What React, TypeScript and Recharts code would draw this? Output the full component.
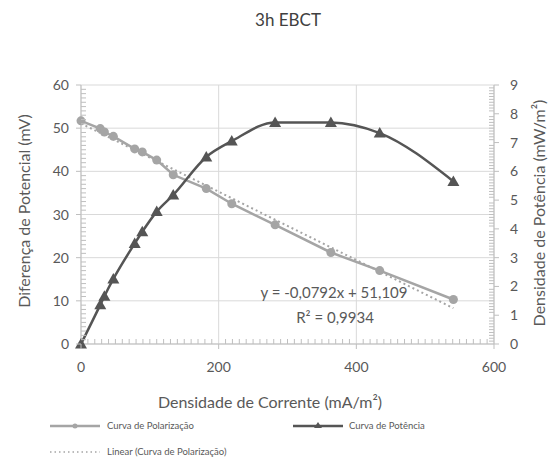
import React from 'react';
import { ComposedChart, Line, XAxis, YAxis, CartesianGrid } from 'recharts';

// ---- data ----
const currentDensity = [0, 28, 34, 47, 78, 89, 110, 134, 182, 219, 282, 363, 434, 541];
const potentialDiff = [51.7, 49.9, 49.1, 48.1, 45.2, 44.5, 42.6, 39.2, 36.0, 32.5, 27.6, 21.2, 17.0, 10.3];
const powerDensity = [0, 1.36, 1.66, 2.26, 3.49, 3.9, 4.6, 5.18, 6.5, 7.05, 7.7, 7.7, 7.33, 5.65];
const trendX = [0, 541];
const trendY = [51.1, 8.3];

const xMajorTicks = [0, 200, 400, 600];
const leftMajorTicks = [0, 10, 20, 30, 40, 50, 60];
const rightMajorTicks = [0, 1, 2, 3, 4, 5, 6, 7, 8, 9];

const title = '3h EBCT';
const xTitle = 'Densidade de Corrente (mA/m²)';
const leftTitle = 'Diferença de Potencial (mV)';
const rightTitle = 'Densidade de Potência (mW/m²)';
const seriesNames = ['Curva de Polarização', 'Curva de Potência', 'Linear (Curva de Polarização)'];
const trendEq = 'y = -0,0792x + 51,109';
const trendR2 = 'R² = 0,9934';

// minor tick positions (axis decoration)
const xTicks = Array.from({ length: 61 }, (_, i) => i * 10);
const leftTicks = Array.from({ length: 61 }, (_, i) => i);
const rightTicks = Array.from({ length: 91 }, (_, i) => i / 10);

const table = currentDensity.map((x, i) => ({ x, v: potentialDiff[i], p: powerDensity[i] }));
const trendData = trendX.map((x, i) => ({ x, t: trendY[i] }));

const AXIS = '#BFBFBF';
const GRID = '#D9D9D9';
const TEXT = '#595959';
const LIGHT = '#A5A5A5';
const DARK = '#555555';
const FONT = 'Lato, "Open Sans", sans-serif';

const isMajor = (v: number, step: number) => Math.abs(v / step - Math.round(v / step)) < 1e-6;

const LeftTick = (props: any) => {
  const { x, y, payload } = props;
  const v = payload.value;
  const major = isMajor(v, 10);
  return (
    <g>
      {major ? (
        <line x1={x - 5} x2={x} y1={y} y2={y} stroke={AXIS} />
      ) : (
        <line x1={x} x2={x + 5} y1={y} y2={y} stroke={AXIS} />
      )}
      {major && leftMajorTicks.includes(v) && (
        <text x={x - 12} y={y} dy="0.36em" textAnchor="end" fill={TEXT} fontSize={14} fontFamily={FONT}>
          {v}
        </text>
      )}
    </g>
  );
};

const RightTick = (props: any) => {
  const { x, y, payload } = props;
  const v = payload.value;
  const major = isMajor(v, 1);
  return (
    <g>
      {major ? (
        <line x1={x} x2={x + 5} y1={y} y2={y} stroke={AXIS} />
      ) : (
        <line x1={x - 5} x2={x} y1={y} y2={y} stroke={AXIS} />
      )}
      {major && rightMajorTicks.includes(Math.round(v)) && (
        <text x={x + 16} y={y} dy="0.36em" textAnchor="start" fill={TEXT} fontSize={14} fontFamily={FONT}>
          {Math.round(v)}
        </text>
      )}
    </g>
  );
};

const BottomTick = (props: any) => {
  const { x, y, payload } = props;
  const v = payload.value;
  const major = isMajor(v, 200);
  return (
    <g>
      {major ? (
        <line x1={x} x2={x} y1={y} y2={y + 5} stroke={AXIS} />
      ) : (
        <line x1={x} x2={x} y1={y - 5} y2={y} stroke={AXIS} />
      )}
      {major && xMajorTicks.includes(v) && (
        <text x={x} y={y + 23} dy="0.36em" textAnchor="middle" fill={TEXT} fontSize={14} fontFamily={FONT}>
          {v}
        </text>
      )}
    </g>
  );
};

const CircleDot = (props: any) => {
  const { cx, cy, index } = props;
  if (cx == null || cy == null) return <g key={`c${index}`} />;
  return <circle key={`c${index}`} cx={cx} cy={cy} r={4.5} fill={LIGHT} stroke="none" />;
};

const TriDot = (props: any) => {
  const { cx, cy, index } = props;
  if (cx == null || cy == null) return <g key={`t${index}`} />;
  const pts = `${cx},${cy - 6} ${cx - 6},${cy + 4.5} ${cx + 6},${cy + 4.5}`;
  return <polygon key={`t${index}`} points={pts} fill={DARK} stroke="none" />;
};

const textBase: React.CSSProperties = {
  position: 'absolute',
  fontFamily: FONT,
  color: TEXT,
  whiteSpace: 'nowrap',
  lineHeight: 1,
};

export default function App() {
  return (
    <div style={{ position: 'absolute', left: 0, top: 0, width: 548, height: 462, background: '#fff' }}>
      <ComposedChart
        width={548}
        height={462}
        data={table}
        margin={{ top: 85, right: 0, bottom: 88, left: 0 }}
      >
        <CartesianGrid
          yAxisId="left"
          stroke={GRID}
          horizontalValues={leftMajorTicks}
          verticalValues={xMajorTicks}
        />
        <XAxis
          dataKey="x"
          type="number"
          domain={[0, 600]}
          ticks={xTicks}
          interval={0}
          height={30}
          tickSize={0}
          tickMargin={0}
          tickLine={false}
          axisLine={{ stroke: AXIS }}
          tick={<BottomTick />}
        />
        <YAxis
          yAxisId="left"
          orientation="left"
          type="number"
          domain={[0, 60]}
          ticks={leftTicks}
          interval={0}
          width={81}
          tickSize={0}
          tickMargin={0}
          tickLine={false}
          axisLine={{ stroke: AXIS }}
          tick={<LeftTick />}
        />
        <YAxis
          yAxisId="right"
          orientation="right"
          type="number"
          domain={[0, 9]}
          ticks={rightTicks}
          interval={0}
          width={54}
          tickSize={0}
          tickMargin={0}
          tickLine={false}
          axisLine={{ stroke: AXIS }}
          tick={<RightTick />}
        />
        <Line
          yAxisId="left"
          dataKey="v"
          name={seriesNames[0]}
          type="linear"
          stroke={LIGHT}
          strokeWidth={2.5}
          dot={<CircleDot />}
          activeDot={false}
          isAnimationActive={false}
        />
        <Line
          yAxisId="left"
          data={trendData}
          dataKey="t"
          name={seriesNames[2]}
          type="linear"
          stroke={LIGHT}
          strokeWidth={2}
          strokeDasharray="2 3"
          dot={false}
          activeDot={false}
          isAnimationActive={false}
        />
        <Line
          yAxisId="right"
          dataKey="p"
          name={seriesNames[1]}
          type="monotone"
          stroke={DARK}
          strokeWidth={2.5}
          dot={<TriDot />}
          activeDot={false}
          isAnimationActive={false}
        />
      </ComposedChart>

      {/* titles */}
      <div style={{ ...textBase, left: 288, top: 19, transform: 'translate(-50%,-50%)', fontSize: 17, color: '#404040' }}>
        {title}
      </div>
      <div style={{ ...textBase, left: 270, top: 402, transform: 'translate(-50%,-50%)', fontSize: 16 }}>
        {xTitle}
      </div>
      <div style={{ ...textBase, left: 24, top: 211, transform: 'translate(-50%,-50%) rotate(-90deg)', fontSize: 16 }}>
        {leftTitle}
      </div>
      <div style={{ ...textBase, left: 539, top: 213, transform: 'translate(-50%,-50%) rotate(-90deg)', fontSize: 16 }}>
        {rightTitle}
      </div>

      {/* trendline label */}
      <div style={{ ...textBase, left: 334, top: 292, transform: 'translate(-50%,-50%)', fontSize: 15 }}>
        {trendEq}
      </div>
      <div style={{ ...textBase, left: 335, top: 317, transform: 'translate(-50%,-50%)', fontSize: 15 }}>
        {trendR2}
      </div>

      {/* legend */}
      <svg style={{ position: 'absolute', left: 0, top: 410 }} width={548} height={52}>
        <line x1={50} x2={100} y1={16} y2={16} stroke={LIGHT} strokeWidth={2.5} />
        <circle cx={75} cy={16} r={2.5} fill={LIGHT} />
        <text x={107} y={16} dy="0.35em" fontSize={9.5} fill={TEXT} fontFamily={FONT}>{seriesNames[0]}</text>
        <line x1={293} x2={343} y1={16} y2={16} stroke={DARK} strokeWidth={2.5} />
        <polygon points="318,12 314,18 322,18" fill={DARK} />
        <text x={349} y={16} dy="0.35em" fontSize={9.5} fill={TEXT} fontFamily={FONT}>{seriesNames[1]}</text>
        <line x1={50} x2={100} y1={42} y2={42} stroke={LIGHT} strokeWidth={1.5} strokeDasharray="1.5 3" />
        <text x={107} y={42} dy="0.35em" fontSize={9.5} fill={TEXT} fontFamily={FONT}>{seriesNames[2]}</text>
      </svg>
    </div>
  );
}
